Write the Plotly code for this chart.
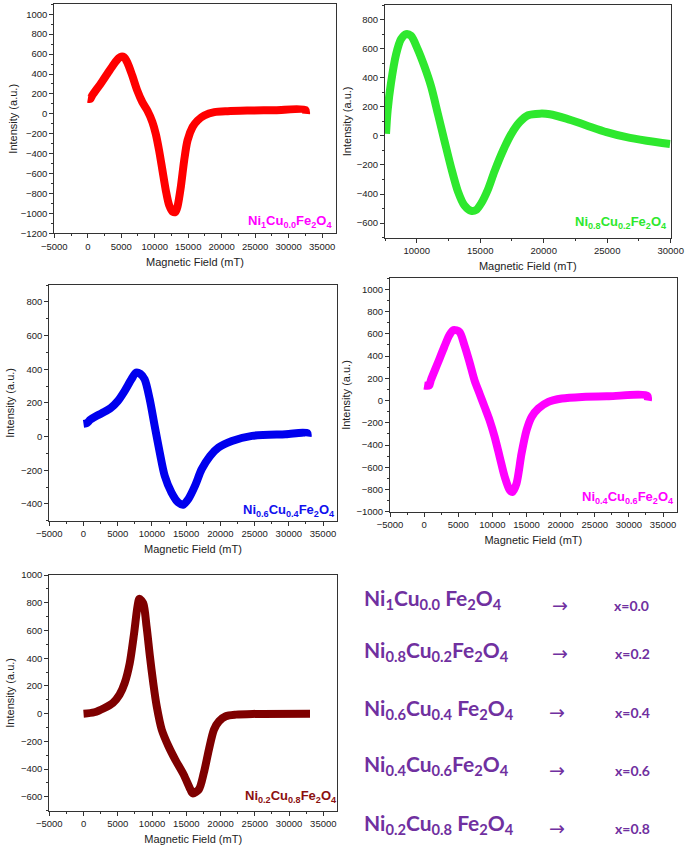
import plotly.graph_objects as go

W, H = 685, 850

# ---------------- data ----------------
field_1 = [0, 400, 650, 1900, 2900, 3900, 4650, 5000, 5400, 5900, 6650, 7400, 8150, 8900, 9650,
           10150, 10650, 11150, 11650, 12150, 12700, 13100, 13400, 13900, 14400, 14900, 15650,
           16400, 17400, 18900, 20900, 24400, 28000, 32500, 32600]
intensity_1 = [150, 150, 183, 300, 400, 500, 560, 575, 570, 517, 383, 233, 117, 33, -83,
               -200, -367, -567, -767, -917, -985, -985, -933, -733, -467, -267, -133,
               -67, -17, 17, 27, 33, 37, 40, 0]

field_2 = [7580, 7710, 7970, 8370, 8760, 9160, 9550, 10080, 10600, 11130, 11660, 12180, 12710,
           13240, 13760, 14290, 14680, 15080, 15600, 16130, 16790, 17450, 18110, 18770, 19690,
           20480, 21790, 23370, 24950, 26530, 28110, 29950]
intensity_2 = [14, 177, 363, 560, 665, 700, 688, 595, 479, 340, 153, -33, -219,
               -381, -479, -516, -509, -463, -370, -242, -102, 14, 95, 142, 153,
               149, 119, 72, 26, -9, -33, -56]

field_3 = [0, 500, 1000, 2000, 3000, 4000, 5000, 6000, 7000, 7700, 8300, 8930, 9670, 10400,
           11140, 11870, 12860, 13840, 14570, 15310, 16290, 17270, 18500, 19730, 21690, 24630,
           29540, 32700, 32750]
intensity_3 = [75, 80, 100, 125, 145, 170, 210, 270, 340, 380, 372, 340, 222, 63,
               -95, -234, -333, -392, -405, -372, -293, -194, -115, -65, -26, 4,
               14, 20, 0]

field_4 = [0, 740, 980, 1970, 2950, 3690, 4300, 5170, 5900, 6640, 7380, 8120, 8860, 9590,
           10330, 11070, 11810, 12550, 12950, 13530, 14270, 15010, 15740, 16730, 18200, 20170,
           23120, 27060, 32720, 32770]
intensity_4 = [135, 135, 183, 333, 483, 588, 635, 618, 498, 348, 183, 63, -57, -177,
               -327, -507, -687, -807, -822, -747, -477, -267, -147, -72, -12, 18,
               33, 39, 42, 0]

field_5 = [0, 1575, 3050, 4280, 5260, 6000, 6740, 7380, 7870, 8150, 8710, 9200, 9690, 10180,
           10680, 11410, 12400, 13380, 14610, 15600, 15950, 16830, 17560, 18300, 19040, 19780,
           20760, 22240, 24700, 33060]
intensity_5 = [0, 10, 41, 77, 137, 220, 364, 580, 772, 828, 796, 628, 412, 220,
               53, -115, -235, -331, -439, -547, -575, -547, -427, -259, -115, -55,
               -19, -7, -2, 0]

sample_labels = [
    "Ni<sub>1</sub>Cu<sub>0.0</sub>Fe<sub>2</sub>O<sub>4</sub>",
    "Ni<sub>0.8</sub>Cu<sub>0.2</sub>Fe<sub>2</sub>O<sub>4</sub>",
    "Ni<sub>0.6</sub>Cu<sub>0.4</sub>Fe<sub>2</sub>O<sub>4</sub>",
    "Ni<sub>0.4</sub>Cu<sub>0.6</sub>Fe<sub>2</sub>O<sub>4</sub>",
    "Ni<sub>0.2</sub>Cu<sub>0.8</sub>Fe<sub>2</sub>O<sub>4</sub>",
]
key_labels = [
    "Ni<sub>1</sub>Cu<sub>0.0</sub> Fe<sub>2</sub>O<sub>4</sub>",
    "Ni<sub>0.8</sub>Cu<sub>0.2</sub>Fe<sub>2</sub>O<sub>4</sub>",
    "Ni<sub>0.6</sub>Cu<sub>0.4</sub> Fe<sub>2</sub>O<sub>4</sub>",
    "Ni<sub>0.4</sub>Cu<sub>0.6</sub>Fe<sub>2</sub>O<sub>4</sub>",
    "Ni<sub>0.2</sub>Cu<sub>0.8</sub> Fe<sub>2</sub>O<sub>4</sub>",
]
x_values = ["x=0.0", "x=0.2", "x=0.4", "x=0.6", "x=0.8"]

x_title = "Magnetic Field (mT)"
y_title = "Intensity (a.u.)"

# ---------------- styling ----------------
line_colors = ["#ff0000", "#2ee82e", "#0000ee", "#ff00ff", "#7f0000"]
label_colors = ["#ff00ff", "#2ee82e", "#1010ee", "#ff00ff", "#8b1010"]
purple = "#7030a0"
FONT = "Liberation Sans, Arial, sans-serif"


def px_x(p):
    return p / W


def px_y(p):
    return 1 - p / H


# panel boxes in pixels: (left, right, top, bottom)
boxes = [
    (54.3, 335.5, 4.3, 233.3),
    (385.0, 670.7, 5.0, 237.7),
    (49.3, 336.7, 285.0, 520.7),
    (390.0, 676.7, 278.3, 511.7),
    (49.3, 337.0, 575.0, 810.7),
]
x_ranges = [[-5000, 37000], [7500, 30000], [-5000, 37000], [-5000, 37000], [-5000, 37000]]
y_ranges = [[-1200, 1100], [-700, 900], [-500, 900], [-1000, 1100], [-700, 1000]]
y_title_standoff = [0, 2, 4, 3, 4]
# label placement: (right edge px, center y px)
label_pos = [(334, 221), (669, 222), (337, 510), (676, 497), (339, 796)]

fields = [field_1, field_2, field_3, field_4, field_5]
intens = [intensity_1, intensity_2, intensity_3, intensity_4, intensity_5]

fig = go.Figure()
layout = dict(
    width=W, height=H, margin=dict(l=0, r=0, t=0, b=0),
    paper_bgcolor="white", plot_bgcolor="white", showlegend=False,
    font=dict(family=FONT, color="#222"),
)
annotations = []

for i in range(5):
    n = "" if i == 0 else str(i + 1)
    fig.add_trace(go.Scatter(
        x=fields[i], y=intens[i], mode="lines",
        line=dict(color=line_colors[i], width=8, shape="spline", smoothing=0.8),
        xaxis="x" + n, yaxis="y" + n, hoverinfo="skip",
    ))
    l, r, t, b = boxes[i]
    common = dict(
        showline=True, linecolor="#333", linewidth=1, mirror=True,
        ticks="outside", ticklen=4, tickwidth=1, tickcolor="#333",
        showgrid=False, zeroline=False, tickformat="d", automargin=False,
        tickfont=dict(size=9.5, family=FONT, color="#222"),
    )
    layout["xaxis" + n] = dict(
        domain=[px_x(l), px_x(r)], range=x_ranges[i], anchor="y" + n,
        tick0=0, dtick=5000,
        minor=dict(ticks="outside", ticklen=2, dtick=2500, tick0=0, tickcolor="#333"),
        title=dict(text=x_title, font=dict(size=11, family=FONT, color="#222"), standoff=7),
        **common,
    )
    layout["yaxis" + n] = dict(
        domain=[px_y(b), px_y(t)], range=y_ranges[i], anchor="x" + n,
        tick0=0, dtick=200,
        minor=dict(ticks="outside", ticklen=2, dtick=100, tick0=0, tickcolor="#333"),
        title=dict(text=y_title, font=dict(size=11, family=FONT, color="#222"),
                   standoff=y_title_standoff[i]),
        **common,
    )
    rx, cy = label_pos[i]
    annotations.append(dict(
        x=px_x(rx), y=px_y(cy), xref="paper", yref="paper",
        xanchor="right", yanchor="middle", showarrow=False,
        text="<b>" + sample_labels[i] + "</b>",
        font=dict(size=13, family=FONT, color=label_colors[i]),
    ))

# right-hand key
key_y = [596, 648, 706, 762, 821]
arrow_x = [560, 560, 557, 557, 557]
arrow_y = [605, 653, 712, 770, 828]
xv_left = [612, 613, 613, 613, 613]
for i in range(5):
    annotations.append(dict(
        x=px_x(362), y=px_y(key_y[i] + 3), xref="paper", yref="paper",
        xanchor="left", yanchor="middle", showarrow=False,
        text="<b>" + key_labels[i] + "</b>",
        font=dict(size=21, family="Lato, Open Sans, sans-serif", color=purple),
    ))
    annotations.append(dict(
        x=px_x(arrow_x[i]), y=px_y(arrow_y[i]), xref="paper", yref="paper",
        xanchor="center", yanchor="middle", showarrow=False,
        text="→", font=dict(size=19, family="DejaVu Sans", color=purple),
    ))
    annotations.append(dict(
        x=px_x(xv_left[i]), y=px_y(arrow_y[i]), xref="paper", yref="paper",
        xanchor="left", yanchor="middle", showarrow=False,
        text="<b>" + x_values[i] + "</b>",
        font=dict(size=14, family="Lato, Open Sans, sans-serif", color=purple),
    ))

layout["annotations"] = annotations
fig.update_layout(**layout)
fig.write_html("out.html", config={"displayModeBar": False},
               post_script="document.body.style.margin='0px';document.body.style.overflow='hidden';")
